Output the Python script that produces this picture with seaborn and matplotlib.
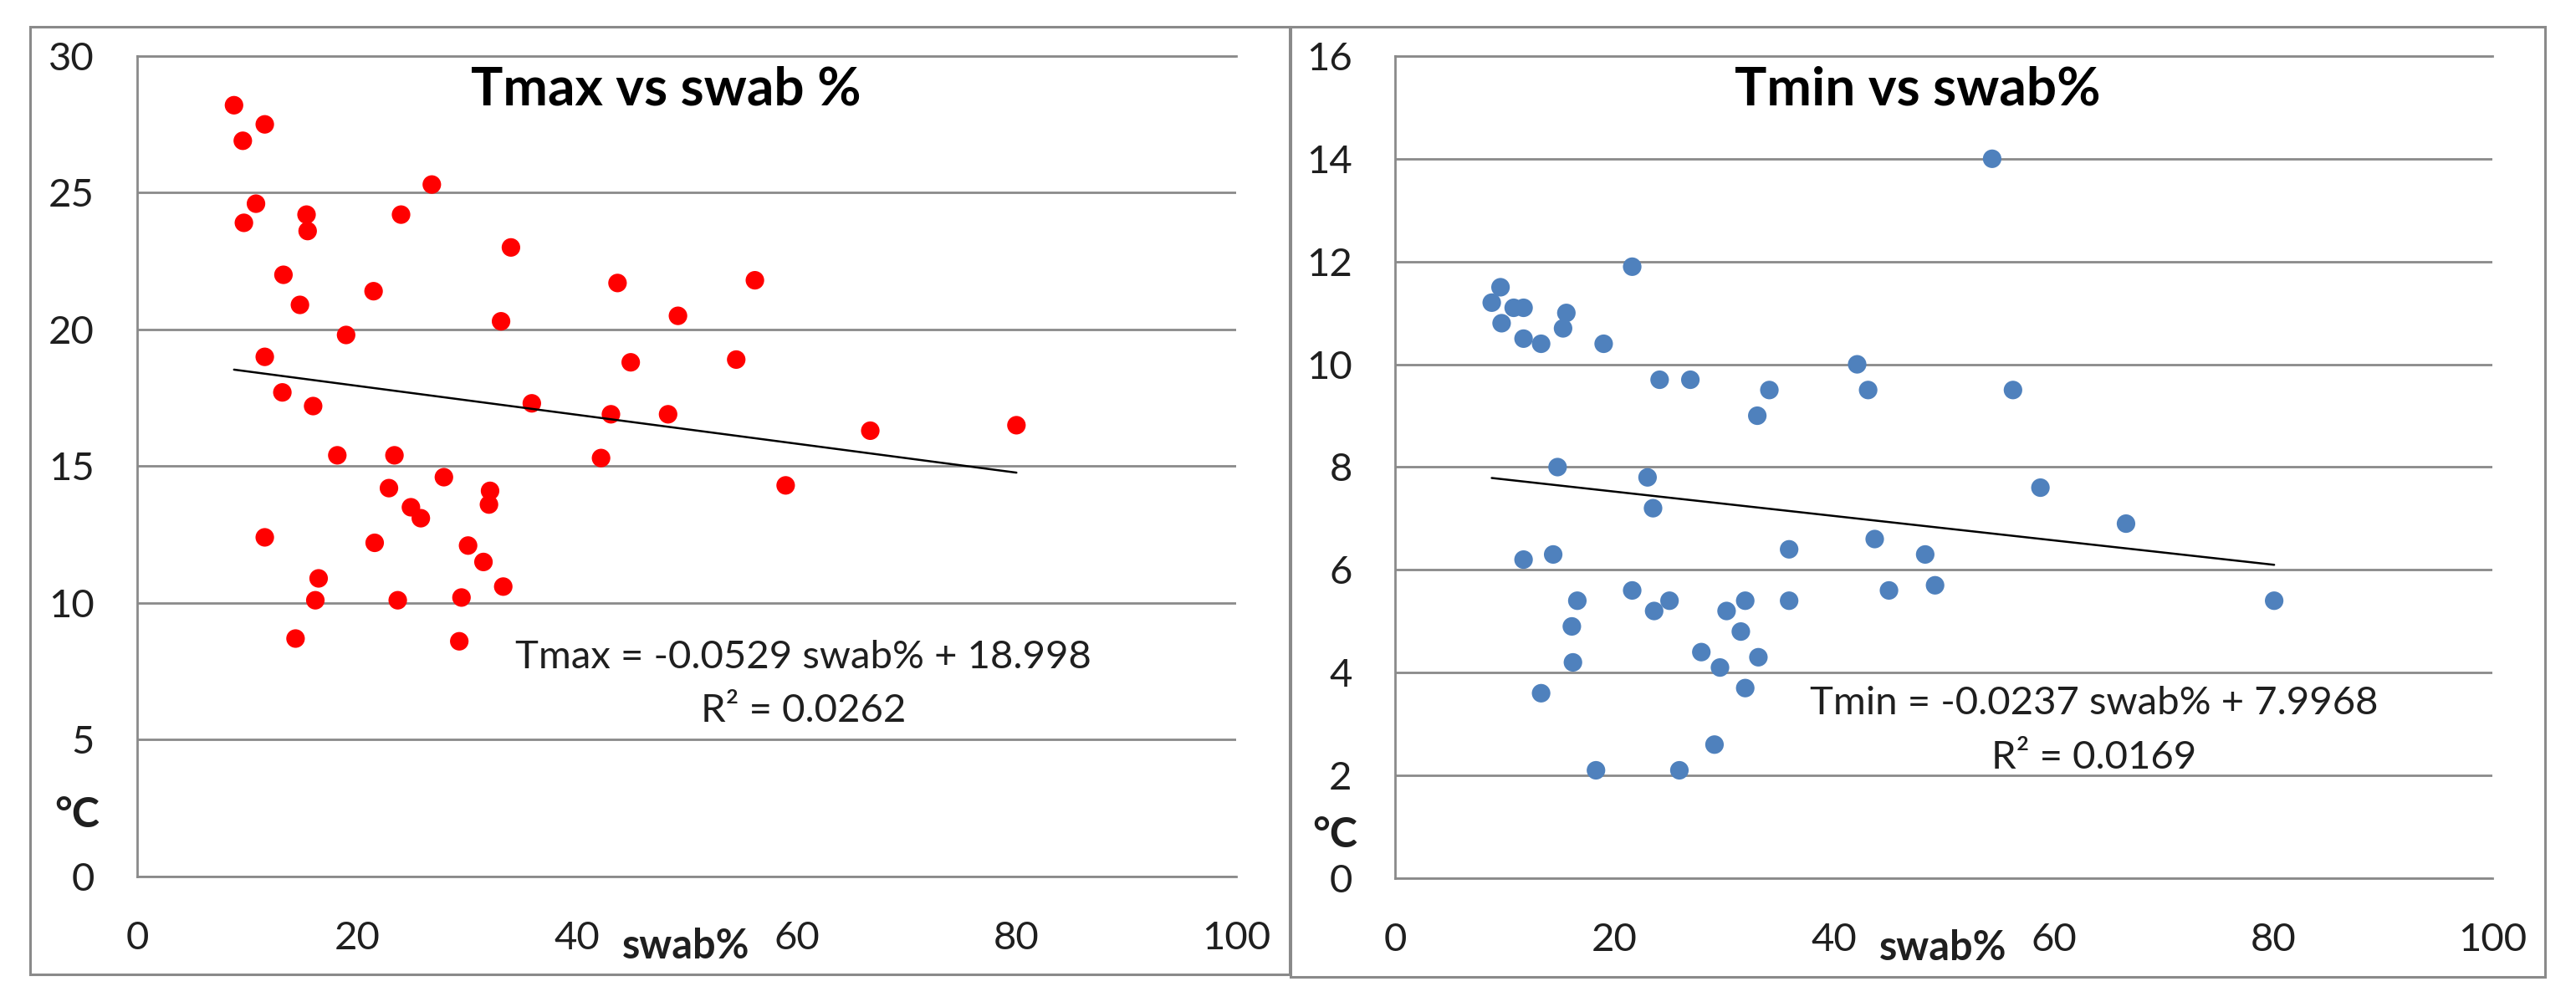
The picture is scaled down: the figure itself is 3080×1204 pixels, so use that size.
import matplotlib
matplotlib.use("Agg")
import matplotlib.pyplot as plt
import seaborn as sns
import numpy as np
from matplotlib.patches import Rectangle

# ---------------- data ----------------
swab_tmax = [8.8, 9.6, 11.6, 10.8, 9.7, 15.4, 15.5, 13.3, 14.8, 11.6,
             13.2, 16.0, 19.0, 21.5, 18.2, 11.6, 16.5, 16.2, 14.4, 21.6,
             23.4, 22.9, 23.7, 24.0, 26.8, 24.9, 25.8, 27.9, 30.1, 31.5,
             29.5, 29.3, 32.1, 32.0, 33.3, 33.1, 34.0, 35.9, 43.7, 43.1,
             42.2, 44.9, 49.2, 48.3, 54.5, 56.2, 59.0, 66.7, 80.0]
tmax = [28.2, 26.9, 27.5, 24.6, 23.9, 24.2, 23.6, 22.0, 20.9, 19.0,
        17.7, 17.2, 19.8, 21.4, 15.4, 12.4, 10.9, 10.1, 8.7, 12.2,
        15.4, 14.2, 10.1, 24.2, 25.3, 13.5, 13.1, 14.6, 12.1, 11.5,
        10.2, 8.6, 14.1, 13.6, 10.6, 20.3, 23.0, 17.3, 21.7, 16.9,
        15.3, 18.8, 20.5, 16.9, 18.9, 21.8, 14.3, 16.3, 16.5]

swab_tmin = [8.8, 9.6, 9.7, 10.8, 11.7, 11.7, 13.3, 15.6, 15.3, 19.0,
             21.6, 24.1, 26.9, 14.8, 23.0, 23.5, 11.7, 14.4, 16.6, 16.1,
             16.2, 13.3, 18.3, 21.6, 23.6, 25.0, 25.9, 27.9, 29.1, 29.6,
             30.2, 31.5, 31.9, 31.9, 33.1, 33.0, 34.1, 35.9, 35.9, 42.1,
             43.1, 43.7, 45.0, 48.3, 49.2, 54.4, 56.3, 58.8, 66.6, 80.1]
tmin = [11.2, 11.5, 10.8, 11.1, 11.1, 10.5, 10.4, 11.0, 10.7, 10.4,
        11.9, 9.7, 9.7, 8.0, 7.8, 7.2, 6.2, 6.3, 5.4, 4.9,
        4.2, 3.6, 2.1, 5.6, 5.2, 5.4, 2.1, 4.4, 2.6, 4.1,
        5.2, 4.8, 5.4, 3.7, 4.3, 9.0, 9.5, 6.4, 5.4, 10.0,
        9.5, 6.6, 5.6, 6.3, 5.7, 14.0, 9.5, 7.6, 6.9, 5.4]

titles = ["Tmax vs swab %", "Tmin vs swab%"]
slopes = [-0.0529, -0.0237]
intercepts = [18.998, 7.9968]
equations = ["Tmax = -0.0529 swab% + 18.998", "Tmin = -0.0237 swab% + 7.9968"]
r2_labels = ["R\u00b2 = 0.0262", "R\u00b2 = 0.0169"]
xticks = [0, 20, 40, 60, 80, 100]
yticks_max = [0, 5, 10, 15, 20, 25, 30]
yticks_min = [0, 2, 4, 6, 8, 10, 12, 14, 16]
x_label = "swab%"
y_label = "\u00b0C"

# ---------------- style ----------------
sns.set_theme(style="white")
plt.rcParams["font.family"] = ["Lato", "DejaVu Sans"]

GRID = "#8a8a8a"
TXT = "#1f1f1f"

fig = plt.figure(figsize=(30.8, 12.04), dpi=100)
fig.patch.set_facecolor("white")

ax1 = fig.add_axes([0.0533, 0.1296, 0.4266, 0.8148])
ax2 = fig.add_axes([0.5416, 0.1279, 0.4260, 0.8165])

# panel borders
fig.patches.append(Rectangle((0.0117, 0.0324), 0.5006 - 0.0117, 0.9734 - 0.0324,
                             transform=fig.transFigure, fill=False,
                             edgecolor=GRID, linewidth=2.2))
fig.patches.append(Rectangle((0.5010, 0.0300), 0.9880 - 0.5010, 0.9734 - 0.0300,
                             transform=fig.transFigure, fill=False,
                             edgecolor=GRID, linewidth=2.2))

panels = [
    (ax1, swab_tmax, tmax, "#ff0000", yticks_max, 0),
    (ax2, swab_tmin, tmin, "#4f81bd", yticks_min, 1),
]

eq_pos = [((0.606, 0.267), (0.606, 0.202)), ((0.637, 0.213), (0.637, 0.146))]
title_x = [0.481, 0.476]
ylab_y = [0.075, 0.052]

for ax, xs, ys, col, yt, i in panels:
    sns.scatterplot(x=xs, y=ys, ax=ax, color=col, s=255, linewidth=0,
                    edgecolor="none", zorder=3, legend=False)
    x0, x1 = min(xs), max(xs)
    tx = [x0, x1]
    ty = [slopes[i] * v + intercepts[i] for v in tx]
    sns.lineplot(x=tx, y=ty, ax=ax, color="black", linewidth=1.8, zorder=4)

    ax.set_xlim(0, 100)
    ax.set_ylim(yt[0], yt[-1])
    ax.set_xticks(xticks)
    ax.set_yticks(yt)
    ax.set_xticklabels([str(v) for v in xticks])
    ax.set_yticklabels([str(v) for v in yt])
    ax.tick_params(axis="both", length=0, labelsize=34, labelcolor=TXT)
    ax.tick_params(axis="y", pad=37)
    ax.tick_params(axis="x", pad=38)

    ax.grid(axis="y", color=GRID, linewidth=2.0)
    ax.grid(axis="x", visible=False)
    ax.set_axisbelow(True)
    for s in ["top", "bottom", "left"]:
        ax.spines[s].set_visible(True)
        ax.spines[s].set_color(GRID)
        ax.spines[s].set_linewidth(2.0)
    ax.spines["right"].set_visible(False)
    ax.set_xlabel("")
    ax.set_ylabel("")

    ax.text(title_x[i], 0.959, titles[i], transform=ax.transAxes,
            ha="center", va="center", fontsize=46, fontweight="bold", color="black")
    (ex, ey), (rx, ry) = eq_pos[i]
    ax.text(ex, ey, equations[i], transform=ax.transAxes, ha="center",
            va="center", fontsize=34, color=TXT)
    ax.text(rx, ry, r2_labels[i], transform=ax.transAxes, ha="center",
            va="center", fontsize=34, color=TXT)
    ax.text(0.499, -0.085, x_label, transform=ax.transAxes, ha="center",
            va="center", fontsize=35, fontweight="bold", color=TXT)
    ax.text(-0.055, ylab_y[i], y_label, transform=ax.transAxes, ha="center",
            va="center", fontsize=36, fontweight="bold", color=TXT)

fig.savefig("out.png", dpi=100, facecolor="white")
